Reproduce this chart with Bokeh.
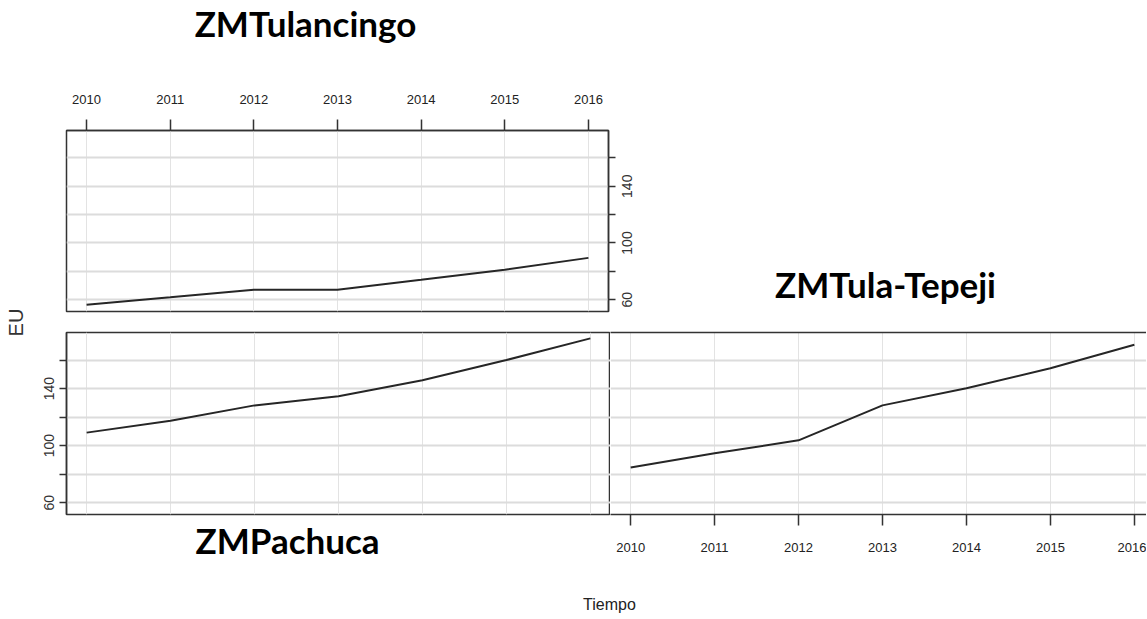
import math
from bokeh.plotting import figure
from bokeh.models import Range1d, FixedTicker, LinearAxis, Label, Grid, Title
from bokeh.layouts import column, row
from bokeh.embed import file_html
from bokeh.resources import INLINE

# ---------------- data ----------------
years = [2010, 2011, 2012, 2013, 2014, 2015, 2016]
tulancingo = [56.4, 61.7, 67.1, 67.1, 74.0, 81.2, 89.5]
pachuca = [109.1, 117.5, 128.2, 134.6, 145.8, 160.0, 175.2]
tula_tepeji = [84.7, 94.6, 103.7, 128.2, 140.2, 154.2, 170.7]
y_label_ticks = [60, 100, 140]
y_minor_ticks = [80, 120, 160]
y_grid_ticks = [60, 80, 100, 120, 140, 160]
panel_titles = ["ZMTulancingo", "ZMPachuca", "ZMTula-Tepeji"]
x_title = "Tiempo"
y_title = "EU"

# ---------------- styles / geometry ----------------
AX = "#333333"
TXT = "#222222"
SANS = "Liberation Sans"
TITLE_FONT = "Lato"
LINE = "#262626"
YLAB_PX = 14       # y tick label font size

X0, X1 = 2009.76, 2016.24
Y0, Y1 = 51.7, 179.3
FW = 544           # frame width of a full panel (px)

TOTAL_W = 1146
EW = 32            # left strip holding "EU"
H_T1 = 60          # top strip holding the first panel title
HA = 261           # top panel figure height
HB = 245           # bottom panels figure height
HD = 52            # bottom strip holding "Tiempo"
MBL = 34           # border left of the panel frames
AW = MBL + FW + 30 # top panel figure width
BW = MBL + FW      # bottom-left figure width
CW = TOTAL_W - EW - BW
T2W = TOTAL_W - EW - AW


def panel(w, h, mbl, mbr, mbt, mbb, x_end, outline=True):
    p = figure(width=w, height=h, x_range=Range1d(X0, x_end), y_range=Range1d(Y0, Y1),
               x_axis_type=None, y_axis_type=None, toolbar_location=None,
               output_backend="svg", min_border_left=mbl, min_border_right=mbr,
               min_border_top=mbt, min_border_bottom=mbb)
    p.outline_line_color = AX if outline else None
    p.outline_line_width = 1.5
    p.add_layout(Grid(dimension=0, ticker=FixedTicker(ticks=years),
                      grid_line_color="#e3e3e3", grid_line_width=1))
    p.add_layout(Grid(dimension=1, ticker=FixedTicker(ticks=y_grid_ticks),
                      grid_line_color="#dcdcdc", grid_line_width=2))
    return p


def year_axis(p, loc, standoff):
    ax = LinearAxis(ticker=FixedTicker(ticks=years, minor_ticks=[]),
                    major_tick_out=11, major_tick_in=0, minor_tick_out=0, minor_tick_in=0,
                    axis_line_color=AX, axis_line_width=1.5,
                    major_tick_line_color=AX, major_tick_line_width=1.5,
                    major_label_standoff=standoff, major_label_text_font=SANS,
                    major_label_text_font_size="13px", major_label_text_color=TXT)
    p.add_layout(ax, loc)


def eu_axis_left(p):
    ax = LinearAxis(ticker=FixedTicker(ticks=y_label_ticks, minor_ticks=y_minor_ticks),
                    major_tick_out=7, major_tick_in=0, minor_tick_out=7, minor_tick_in=0,
                    axis_line_color=AX, axis_line_width=1.5,
                    major_tick_line_color=AX, major_tick_line_width=1.5,
                    minor_tick_line_color=AX, minor_tick_line_width=1.5,
                    major_label_orientation="vertical", major_label_standoff=5,
                    major_label_text_font=SANS, major_label_text_font_size=f"{YLAB_PX}px",
                    major_label_text_color="#333333")
    p.add_layout(ax, "left")


def eu_axis_right(p, frame_h):
    # labels read bottom-to-top; Bokeh starts such labels at the anchor, so the
    # anchor is moved down by half the label length to centre it on its tick
    px_per_unit = frame_h / (Y1 - Y0)
    anchors, overrides = [], {}
    for v in y_label_ticks:
        half_len = 0.556 * YLAB_PX * len(str(v)) / 2
        a = round(v - half_len / px_per_unit, 3)
        anchors.append(a)
        overrides[a] = str(v)
    ax = LinearAxis(ticker=FixedTicker(ticks=anchors, minor_ticks=y_grid_ticks),
                    major_tick_out=0, major_tick_in=0, minor_tick_out=7, minor_tick_in=0,
                    axis_line_color=AX, axis_line_width=1.5,
                    minor_tick_line_color=AX, minor_tick_line_width=1.5,
                    major_label_overrides=overrides,
                    major_label_orientation=math.pi / 2, major_label_standoff=12,
                    major_label_text_font=SANS, major_label_text_font_size=f"{YLAB_PX}px",
                    major_label_text_color="#333333")
    p.add_layout(ax, "right")


def line_axis(p, loc, width=1.5):
    ax = LinearAxis(ticker=FixedTicker(ticks=[], minor_ticks=[]),
                    major_tick_out=0, major_tick_in=0, minor_tick_out=0, minor_tick_in=0,
                    major_label_standoff=0, major_label_text_font_size="0px",
                    axis_line_color=AX, axis_line_width=width)
    p.add_layout(ax, loc)


def blank(w, h):
    p = figure(width=w, height=h, x_range=Range1d(0, w), y_range=Range1d(0, h),
               x_axis_type=None, y_axis_type=None, toolbar_location=None,
               output_backend="svg", min_border=0)
    p.outline_line_color = None
    return p


def put_text(p, x, y_from_top, text, font, size, style="normal", color="black",
             angle=0.0, baseline="middle"):
    # position in the strip's own pixel space (frame == canvas)
    h = p.y_range.end
    p.add_layout(Label(x=x, y=h - y_from_top, text=text, text_font=font,
                       text_font_style=style, text_font_size=size, text_color=color,
                       angle=angle, text_align="center", text_baseline=baseline))


# ---------------- top strip: title of the first panel ----------------
t1 = blank(TOTAL_W, H_T1)
put_text(t1, 305, 22, panel_titles[0], TITLE_FONT, "35px", "bold")

# ---------------- top panel: ZMTulancingo ----------------
A_FH = 181
A_MBT = 130 - H_T1
pa = panel(AW, HA, MBL, AW - MBL - FW, A_MBT, HA - A_MBT - A_FH, X1)
year_axis(pa, "above", 16)
eu_axis_right(pa, A_FH)
pa.line(years, tulancingo, line_color=LINE, line_width=2)

# strip right of the top panel: title of the third panel
t2 = blank(T2W, HA)
put_text(t2, 885 - EW - AW, 282 - H_T1, panel_titles[2], TITLE_FONT, "35px", "bold")

# ---------------- bottom-left panel: ZMPachuca ----------------
B_FH = 182
B_MBT = 332 - H_T1 - HA
pb = panel(BW, HB, MBL, 0, B_MBT, HB - B_MBT - B_FH, X1)
eu_axis_left(pb)
pb.line(years, pachuca, line_color=LINE, line_width=2)
pb.add_layout(Title(text=panel_titles[1], align="left", offset=195 - 66, standoff=4,
                    text_font=TITLE_FONT, text_font_style="bold", text_font_size="35px",
                    text_color="black"), "below")

# ---------------- bottom-right panel: ZMTula-Tepeji (cut at page edge) ----------------
c_end = X0 + (X1 - X0) * CW / FW
pc = panel(CW, HB, 0, 0, B_MBT, HB - B_MBT - B_FH, c_end, outline=False)
year_axis(pc, "below", 17)
line_axis(pc, "above")
pc.line(years, tula_tepeji, line_color=LINE, line_width=2)

# ---------------- "EU" strip ----------------
pe = blank(EW, HA + HB)
put_text(pe, 15, 322 - H_T1, y_title, SANS, "20px", color="#333333", angle=math.pi / 2)

# ---------------- "Tiempo" strip ----------------
pdd = blank(TOTAL_W, HD)
top_d = H_T1 + HA + HB
put_text(pdd, 609, 604 - top_d, x_title, SANS, "16px", color="#222222")

middle = column(row(pa, t2), row(pb, pc))
root = column(t1, row(pe, middle), pdd)
open("out.html", "w").write(file_html(root, INLINE))
